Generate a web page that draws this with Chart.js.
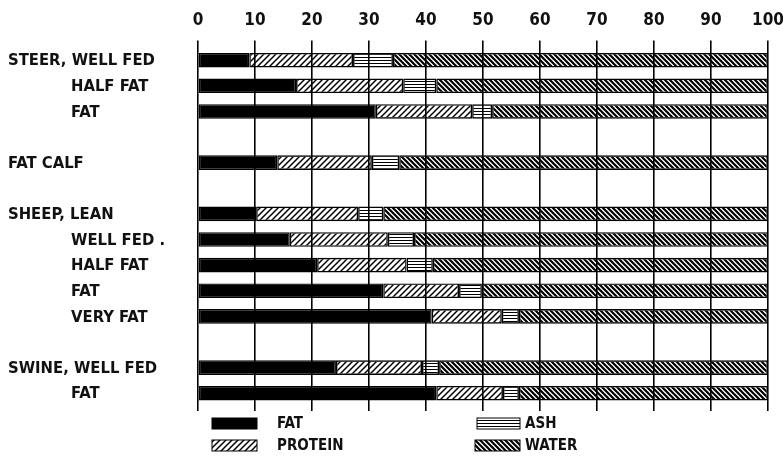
<!DOCTYPE html>
<html><head><meta charset="utf-8">
<script src="https://cdn.jsdelivr.net/npm/chart.js@4.4.0/dist/chart.umd.min.js"></script>
<style>html,body{margin:0;padding:0;background:#fff}#wrap{width:783px;height:459px;position:relative}</style>
</head><body><div id="wrap"><canvas id="c"></canvas></div>
<script>
const categories = ["STEER, WELL FED", "HALF FAT", "FAT", "", "FAT CALF", "", "SHEEP, LEAN", "WELL FED .", "HALF FAT", "FAT", "VERY FAT", "", "SWINE, WELL FED", "FAT"];
const subItem = [false, true, true, false, false, false, false, true, true, true, true, false, false, true];
const fatValues     = [9.0, 17.2, 31.2, null, 13.9, null, 10.2, 16.1, 20.9, 32.5, 41.0, null, 24.2, 41.8];
const proteinValues = [18.2, 18.8, 16.9, null, 16.6, null, 17.9, 17.2, 15.7, 13.3, 12.3, null, 15.1, 11.7];
const ashValues     = [7.0, 5.8, 3.5, null, 4.8, null, 4.4, 4.6, 4.6, 4.0, 3.0, null, 3.0, 2.8];
const waterValues   = [65.8, 58.2, 48.4, null, 64.7, null, 67.5, 62.1, 58.8, 50.2, 43.7, null, 57.7, 43.7];
const seriesNames = ["FAT", "PROTEIN", "ASH", "WATER"];
const xTickMin = 0, xTickMax = 100, xTickStep = 10;

const FONT = "'Liberation Sans Narrow', 'DejaVu Sans Condensed', 'Arial Narrow', sans-serif";
const LABEL_FONT = "'DejaVu Sans Condensed', 'Liberation Sans Narrow', sans-serif";

function hatch(dir, s, lw) {
  const c = document.createElement('canvas');
  c.width = s; c.height = s;
  const g = c.getContext('2d');
  g.strokeStyle = '#000'; g.lineWidth = lw;
  g.beginPath();
  if (dir === '/') {
    g.moveTo(-1, s + 1); g.lineTo(s + 1, -1);
    g.moveTo(-2, 2); g.lineTo(2, -2);
    g.moveTo(s - 2, s + 2); g.lineTo(s + 2, s - 2);
  } else {
    g.moveTo(-1, -1); g.lineTo(s + 1, s + 1);
    g.moveTo(s - 2, -2); g.lineTo(s + 2, 2);
    g.moveTo(-2, s - 2); g.lineTo(2, s + 2);
  }
  g.stroke();
  return g.createPattern(c, 'repeat');
}
function hlines(s, lw) {
  const c = document.createElement('canvas');
  c.width = 4; c.height = s;
  const g = c.getContext('2d');
  g.fillStyle = '#000';
  g.fillRect(0, 0, 4, lw);
  return g.createPattern(c, 'repeat');
}
const fills = ['#000', hatch('/', 6, 1.5), hlines(3, 1), hatch('\\', 5, 2.2)];

const yLabelPlugin = {
  id: 'yLabels',
  afterDraw(chart) {
    const ctx = chart.ctx, y = chart.scales.y;
    ctx.save();
    ctx.font = 'bold 16.5px ' + LABEL_FONT;
    ctx.fillStyle = '#111';
    ctx.textAlign = 'left'; ctx.textBaseline = 'middle';
    categories.forEach((lab, i) => {
      if (!lab) return;
      ctx.fillText(lab, (subItem[i] ? 71 : 8), y.getPixelForValue(i) + 1);
    });
    ctx.restore();
  }
};

const legendPlugin = {
  id: 'gridLegend',
  afterDraw(chart) {
    const ctx = chart.ctx;
    const ds = chart.data.datasets;
    const items = [
      {i: 0, sx: 212, sw: 45, tx: 277, y: 423},
      {i: 1, sx: 212, sw: 45, tx: 277, y: 445},
      {i: 2, sx: 477, sw: 43, tx: 525, y: 423},
      {i: 3, sx: 475, sw: 45, tx: 525, y: 445}
    ];
    ctx.save();
    ctx.font = 'bold 15px ' + LABEL_FONT;
    ctx.textAlign = 'left'; ctx.textBaseline = 'middle';
    items.forEach(it => {
      ctx.fillStyle = ds[it.i].backgroundColor;
      ctx.fillRect(it.sx, it.y - 5, it.sw, 11);
      ctx.strokeStyle = '#000'; ctx.lineWidth = 1;
      ctx.strokeRect(it.sx, it.y - 5, it.sw, 11);
      ctx.fillStyle = '#111';
      ctx.fillText(ds[it.i].label, it.tx, it.y + 1);
    });
    ctx.restore();
  }
};

const valueSets = [fatValues, proteinValues, ashValues, waterValues];
new Chart(document.getElementById('c'), {
  type: 'bar',
  data: {
    labels: categories,
    datasets: seriesNames.map((n, k) => ({
      label: n,
      data: valueSets[k],
      backgroundColor: fills[k],
      borderColor: '#000',
      borderWidth: 1.4,
      borderSkipped: false,
      categoryPercentage: 0.57,
      barPercentage: 1.0
    }))
  },
  options: {
    indexAxis: 'y',
    responsive: true,
    maintainAspectRatio: false,
    animation: false,
    layout: {padding: {left: 5, right: 15, top: 0, bottom: 48}},
    plugins: {legend: {display: false}, tooltip: {enabled: false}},
    scales: {
      x: {
        type: 'linear', position: 'top', stacked: true,
        min: xTickMin, max: xTickMax,
        ticks: {stepSize: xTickStep, color: '#111', padding: 10, font: {family: FONT, size: 17, weight: 'bold'}},
        grid: {color: '#000', lineWidth: 1.6, tickLength: 7, drawTicks: true},
        border: {display: false},
        afterFit: s => { s.paddingRight = 0; s.paddingLeft = 0; }
      },
      x2: {
        type: 'linear', position: 'bottom',
        min: xTickMin, max: xTickMax,
        ticks: {stepSize: xTickStep, display: false},
        grid: {color: '#000', lineWidth: 1.6, tickLength: 5, drawOnChartArea: false},
        border: {display: false},
        afterFit: s => { s.height = 5; s.paddingRight = 0; s.paddingLeft = 0; }
      },
      y: {
        type: 'category', stacked: true,
        ticks: {display: false},
        grid: {display: false},
        border: {display: false},
        afterFit: s => { s.width = 193; }
      }
    }
  },
  plugins: [yLabelPlugin, legendPlugin]
});
</script>
</body></html>
